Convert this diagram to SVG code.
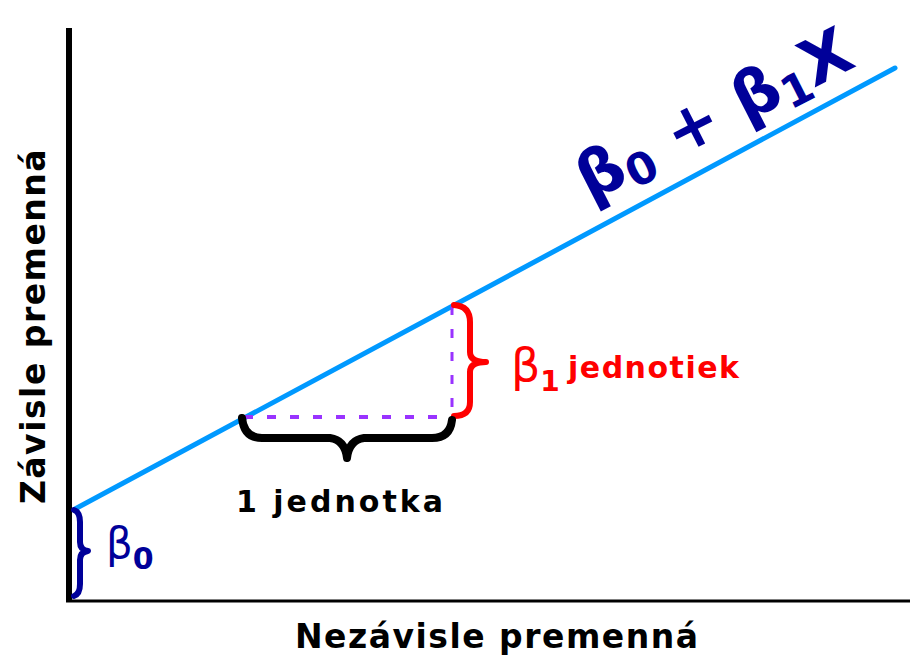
<svg xmlns="http://www.w3.org/2000/svg" width="910" height="660" viewBox="0 0 910 660">
<style>
.lbl{font-family:"DejaVu Sans","Verdana",sans-serif;font-weight:bold}
.brace{fill:none;stroke-linejoin:round;stroke-linecap:round}
</style>
<rect width="910" height="660" fill="#ffffff"/>
<g id="axes">
<line x1="69" y1="28" x2="69" y2="602" stroke="#000" stroke-width="6"/>
<line x1="66" y1="601" x2="910" y2="601" stroke="#000" stroke-width="3"/>
</g>
<g id="connectors">
<line id="regression-line" x1="75" y1="509" x2="895" y2="68" stroke="#0099ff" stroke-width="5" stroke-linecap="round"/>
<line x1="244" y1="417" x2="450" y2="417" stroke="#9933ff" stroke-width="4" stroke-dasharray="9 14"/>
<line x1="452" y1="306" x2="452" y2="412" stroke="#9933ff" stroke-width="3" stroke-dasharray="9 14"/>
</g>
<g id="brace-beta1">
<path class="brace" stroke="#ff0000" stroke-width="6" d="M454,305 Q470,306 470,322 L470,352 Q470,362 486,362 Q470,362 470,372 L470,402 Q470,416 454,416"/>
</g>
<g id="brace-unit">
<path class="brace" stroke="#000" stroke-width="8" d="M242,418 Q244,438 262,438 L330,438 Q345,440 347,458 Q349,440 364,438 L432,438 Q450,438 452,420"/>
</g>
<g id="brace-beta0">
<path class="brace" stroke="#000099" stroke-width="6" d="M74,510 Q80,512 80,522 L80,542 Q80,550 88,551 Q80,552 80,560 L80,584 Q80,594 74,596"/>
</g>
<g id="label-beta1" class="lbl" fill="#ff0000">
<text x="511" y="381"><tspan font-size="46" font-weight="normal">β</tspan><tspan font-size="28" dy="10">1</tspan></text>
<text x="568" y="378" font-size="30" letter-spacing="1.5">jednotiek</text>
</g>
<g id="label-unit">
<text class="lbl" x="236" y="512" font-size="30" letter-spacing="3" fill="#000">1 jednotka</text>
</g>
<g id="label-beta0" class="lbl" fill="#000099">
<text x="106" y="558"><tspan font-size="42" font-weight="normal">β</tspan><tspan font-size="30" dy="11">0</tspan></text>
</g>
<g id="formula" fill="#000099">
<text class="lbl" x="590" y="202" font-size="64" transform="rotate(-27 590 202)"><tspan>β</tspan><tspan font-size="44" dy="9">0</tspan><tspan dy="-9"> + </tspan><tspan>β</tspan><tspan font-size="44" dy="9">1</tspan><tspan dy="-9">X</tspan></text>
</g>
<g id="axis-x-label">
<text class="lbl" x="295" y="648" font-size="33" letter-spacing="1.5" fill="#000">Nezávisle premenná</text>
</g>
<g id="axis-y-label">
<text class="lbl" x="0" y="0" font-size="33" letter-spacing="1.5" fill="#000" text-anchor="middle" transform="translate(45 326) rotate(-90)">Závisle premenná</text>
</g>
</svg>
